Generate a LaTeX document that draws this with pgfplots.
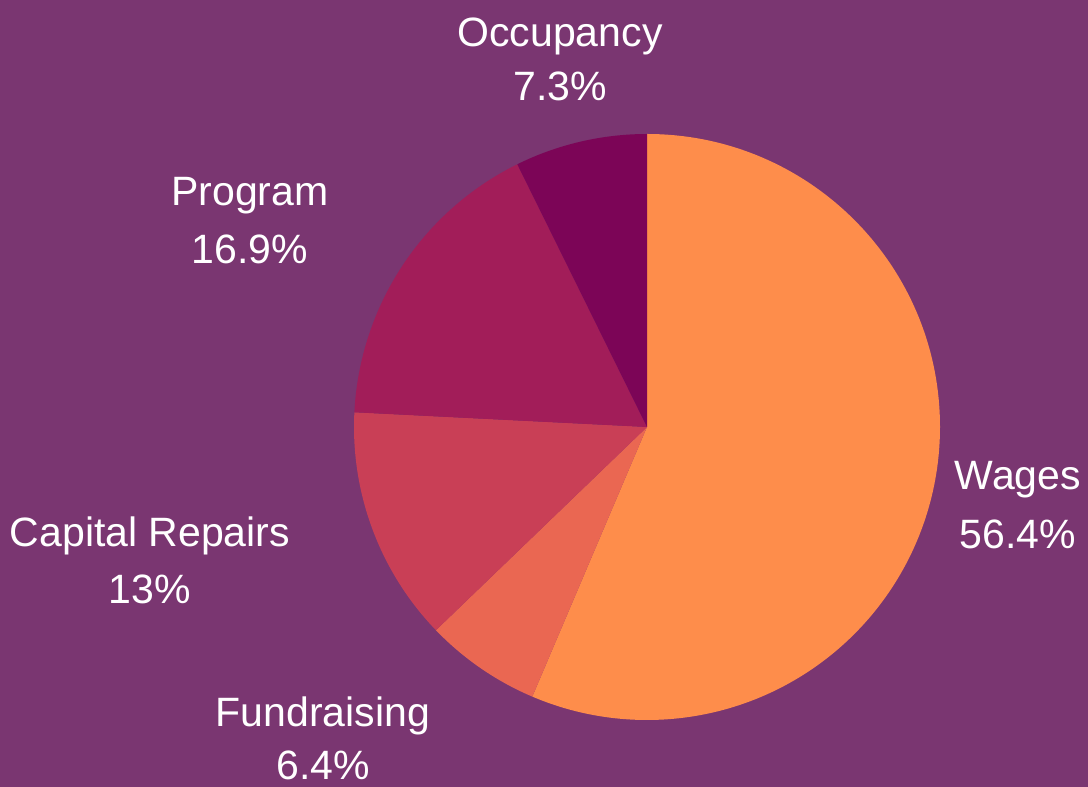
\documentclass[border=0pt]{standalone}
\usepackage{pgfplots}
\pgfplotsset{compat=1.18}
\usepackage{fontspec}
\setmainfont{Liberation Sans}
\definecolor{bg}{HTML}{7A3671}
\definecolor{cWages}{HTML}{FE8D4B}
\definecolor{cFund}{HTML}{EA6752}
\definecolor{cCap}{HTML}{C93F56}
\definecolor{cProg}{HTML}{A21D59}
\definecolor{cOcc}{HTML}{7C0557}
% values (percent), clockwise from the top
\def\vWages{56.4}
\def\vFund{6.4}
\def\vCap{13}
\def\vProg{16.9}
\def\vOcc{7.3}
\pgfmathsetmacro\aA{90}
\pgfmathsetmacro\aB{\aA-3.6*\vWages}
\pgfmathsetmacro\aC{\aB-3.6*\vFund}
\pgfmathsetmacro\aD{\aC-3.6*\vCap}
\pgfmathsetmacro\aE{\aD-3.6*\vProg}
\pgfmathsetmacro\aF{\aE-3.6*\vOcc}
\def\cx{647}
\def\cy{360}
\def\R{293}
\newcommand{\pieslice}[3]{%
  \fill[#1] (axis cs:\cx,\cy) -- (axis cs:{\cx+\R*cos(#2)},{\cy+\R*sin(#2)})
    arc[start angle=#2, end angle=#3, radius=\R pt] -- cycle;}
\tikzset{lbl/.style={text=white, font=\fontsize{41}{49}\selectfont, anchor=base, inner sep=0pt}}
\begin{document}
\begin{tikzpicture}
\begin{axis}[
  anchor=origin, at={(0,0)},
  x=1pt, y=1pt, xmin=0, xmax=1088, ymin=0, ymax=787,
  hide axis, clip=false,
]
\fill[bg] (axis cs:0,0) rectangle (axis cs:1088,787);
\pieslice{cWages}{\aA}{\aB}
\pieslice{cFund}{\aB}{\aC}
\pieslice{cCap}{\aC}{\aD}
\pieslice{cProg}{\aD}{\aE}
\pieslice{cOcc}{\aE}{\aF}
\node[lbl] at (axis cs:560,{787-47}) {Occupancy};
\node[lbl] at (axis cs:560,{787-101}) {\vOcc\%};
\node[lbl] at (axis cs:250,{787-206}) {Program};
\node[lbl] at (axis cs:250,{787-264}) {\vProg\%};
\node[lbl] at (axis cs:150,{787-547}) {Capital Repairs};
\node[lbl] at (axis cs:150,{787-604}) {\vCap\%};
\node[lbl] at (axis cs:323,{787-727}) {Fundraising};
\node[lbl] at (axis cs:323,{787-780}) {\vFund\%};
\node[lbl] at (axis cs:1018,{787-490}) {Wages};
\node[lbl] at (axis cs:1018,{787-549}) {\vWages\%};
\end{axis}
\pgfresetboundingbox
\path (0,0) rectangle (1088pt,787pt);
\end{tikzpicture}
\end{document}
